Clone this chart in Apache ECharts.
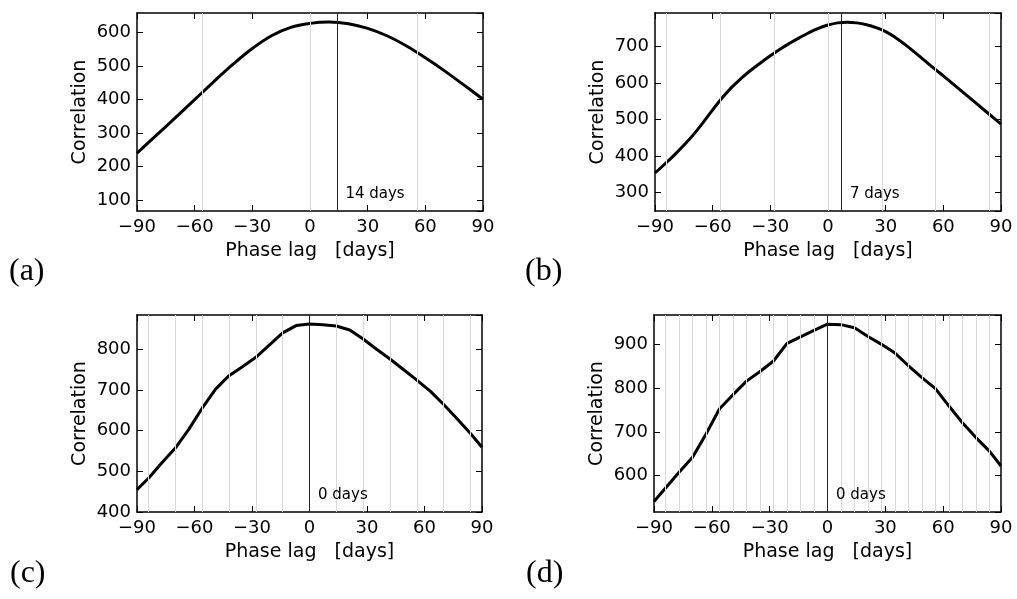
<!DOCTYPE html>
<html>
<head>
<meta charset="utf-8">
<script src="https://cdn.jsdelivr.net/npm/echarts@6/dist/echarts.min.js"></script>
<style>
  html, body { margin: 0; padding: 0; background: #fff; }
  #chart { width: 1017px; height: 599px; }
</style>
</head>
<body>
<div id="chart"></div>
<script>
// ---- data -----------------------------------------------------------
// Phase-lag axis ticks (days)
const lagTicks = [-90, -60, -30, 0, 30, 60, 90];

// (a) smooth correlation curve
const lagsA = [-90, -80, -70, -60, -50, -40, -30, -20, -10, 0, 10, 20, 30, 40, 50, 60, 70, 80, 90];
const corrA = [240, 293, 346, 400, 454, 506, 553, 591, 616, 628, 632, 627, 613, 591, 561, 525, 486, 444, 401];

// (b) smooth correlation curve
const lagsB = [-90, -85, -80, -75, -70, -65, -60, -55, -50, -45, -40, -35, -30, -25, -20, -15, -10, -5, 0,
               5, 10, 15, 20, 25, 30, 35, 40, 45, 50, 55, 60, 65, 70, 75, 80, 85, 90];
const corrB = [354, 378, 403, 430, 459, 492, 527, 560, 589, 614, 636, 656, 675, 693, 709, 724, 738, 750, 759,
               765, 767, 765, 760, 752, 741, 725, 706, 685, 663, 641, 620, 598, 576, 554, 532, 510, 488];

// (c) weekly-sampled correlation
const lagsC = [-90, -84, -77, -70, -63, -56, -49, -42, -35, -28, -21, -14, -7, 0, 7, 14, 21, 28, 35, 42, 49, 56, 63, 70, 77, 84, 90];
const corrC = [455, 483, 521, 557, 603, 655, 702, 735, 757, 780, 810, 840, 858, 862, 860, 857, 847, 825, 800, 776, 750, 724, 697, 664, 629, 593, 559];

// (d) weekly-sampled correlation
const lagsD = [-90, -84, -77, -70, -63, -56, -49, -42, -35, -28, -21, -14, -7, 0, 7, 14, 21, 28, 35, 42, 49, 56, 63, 70, 77, 84, 90];
const corrD = [541, 572, 608, 642, 695, 753, 785, 816, 838, 862, 902, 917, 932, 946, 945, 938, 918, 900, 880, 851, 824, 799, 759, 721, 687, 656, 622];

// Lag of maximum correlation, marked with a vertical line
const peakLags = [14, 7, 0, 0];
// Spacing of the light reference lines (days)
const refPeriods = [56, 28, 14, 7];
// Value-axis extents
const yMins = [67, 250, 400, 517];
const yMaxs = [659, 792, 884, 967];
const panelLetters = ['(a)', '(b)', '(c)', '(d)'];

// ---- layout ---------------------------------------------------------
const panels = [
  { lags: lagsA, corr: corrA, smooth: true,  grid: { left: 137, top: 13,  width: 346, height: 198 }, split: 6, minLabel: false, letter: { left: 9,   top: 256 } },
  { lags: lagsB, corr: corrB, smooth: true,  grid: { left: 655, top: 13,  width: 346, height: 198 }, split: 5, minLabel: false, letter: { left: 525, top: 256 } },
  { lags: lagsC, corr: corrC, smooth: false, grid: { left: 137, top: 315, width: 345, height: 197 }, split: 5, minLabel: true,  letter: { left: 10,  top: 558 } },
  { lags: lagsD, corr: corrD, smooth: false, grid: { left: 654, top: 315, width: 347, height: 197 }, split: 5, minLabel: false, letter: { left: 526, top: 558 } }
];

const FONT = 'DejaVu Sans';
const minus = v => String(v).replace('-', '\u2212');

const grid = [], xAxis = [], yAxis = [], series = [], graphic = [];

panels.forEach((p, i) => {
  grid.push(Object.assign({ containLabel: false }, p.grid));

  const xBase = {
    gridIndex: i, type: 'value', min: lagTicks[0], max: lagTicks[lagTicks.length - 1],
    interval: lagTicks[1] - lagTicks[0],
    axisLine: { show: true, onZero: false, lineStyle: { color: '#000', width: 1.5 } },
    axisTick: { show: true, inside: true, length: 6, lineStyle: { color: '#000', width: 1 } },
    splitLine: { show: false }
  };
  xAxis.push(Object.assign({}, xBase, {
    position: 'bottom',
    axisLabel: { formatter: minus, fontSize: 18, color: '#000', fontFamily: FONT, margin: 7 },
    name: 'Phase lag   [days]', nameLocation: 'middle', nameGap: 31,
    nameTextStyle: { fontSize: 19, color: '#000', fontFamily: FONT }
  }));
  xAxis.push(Object.assign({}, xBase, { position: 'top', axisLabel: { show: false } }));

  const yBase = {
    gridIndex: i, type: 'value', min: yMins[i], max: yMaxs[i], splitNumber: p.split,
    axisLine: { show: true, onZero: false, lineStyle: { color: '#000', width: 1.5 } },
    axisTick: { show: true, inside: true, length: 6, lineStyle: { color: '#000', width: 1 } },
    splitLine: { show: false }
  };
  yAxis.push(Object.assign({}, yBase, {
    position: 'left',
    axisLabel: { fontSize: 18, color: '#000', fontFamily: FONT, margin: 6,
                 showMinLabel: p.minLabel, showMaxLabel: false },
    name: 'Correlation', nameLocation: 'middle', nameGap: 47, nameRotate: 90,
    nameTextStyle: { fontSize: 19, color: '#000', fontFamily: FONT }
  }));
  yAxis.push(Object.assign({}, yBase, { position: 'right', axisLabel: { show: false } }));

  // light periodic reference lines
  const refs = [];
  for (let k = Math.ceil(-90 / refPeriods[i]); k * refPeriods[i] <= 90; k++) {
    const v = k * refPeriods[i];
    if (v > -90 && v < 90) refs.push({ xAxis: v });
  }
  series.push({
    type: 'line', xAxisIndex: 2 * i, yAxisIndex: 2 * i, data: [], z: 1, silent: true,
    markLine: {
      silent: true, symbol: ['none', 'none'], label: { show: false },
      lineStyle: { color: '#d8d8d8', width: 1, type: 'solid' },
      data: refs, animation: false
    }
  });

  // peak-lag line and its label
  series.push({
    type: 'line', xAxisIndex: 2 * i, yAxisIndex: 2 * i, data: [], z: 2, silent: true,
    markLine: {
      silent: true, symbol: ['none', 'none'], label: { show: false },
      lineStyle: { color: '#222', width: 1, type: 'solid' },
      data: [{ xAxis: peakLags[i] }], animation: false
    },
    markPoint: {
      silent: true, animation: false,
      data: [{
        coord: [peakLags[i], yMins[i]], symbol: 'circle', symbolSize: 1,
        itemStyle: { color: 'rgba(0,0,0,0)' },
        label: {
          show: true, formatter: peakLags[i] + ' days', position: 'right', distance: 0,
          offset: [8, -17], fontSize: 15, color: '#000', fontFamily: FONT
        }
      }]
    }
  });

  // correlation curve
  series.push({
    type: 'line', xAxisIndex: 2 * i, yAxisIndex: 2 * i, z: 3,
    data: p.lags.map((d, j) => [d, p.corr[j]]),
    smooth: p.smooth ? 0.4 : false, showSymbol: false, symbol: 'none',
    lineStyle: { color: '#000', width: 3 }, animation: false
  });

  graphic.push({
    type: 'text', left: p.letter.left, top: p.letter.top,
    style: { text: panelLetters[i], font: '32px "Liberation Serif"', fill: '#000' }
  });
});

const chart = echarts.init(document.getElementById('chart'), null, { renderer: 'canvas' });
chart.setOption({
  backgroundColor: '#fff',
  animation: false,
  grid, xAxis, yAxis, series, graphic
});
</script>
</body>
</html>
